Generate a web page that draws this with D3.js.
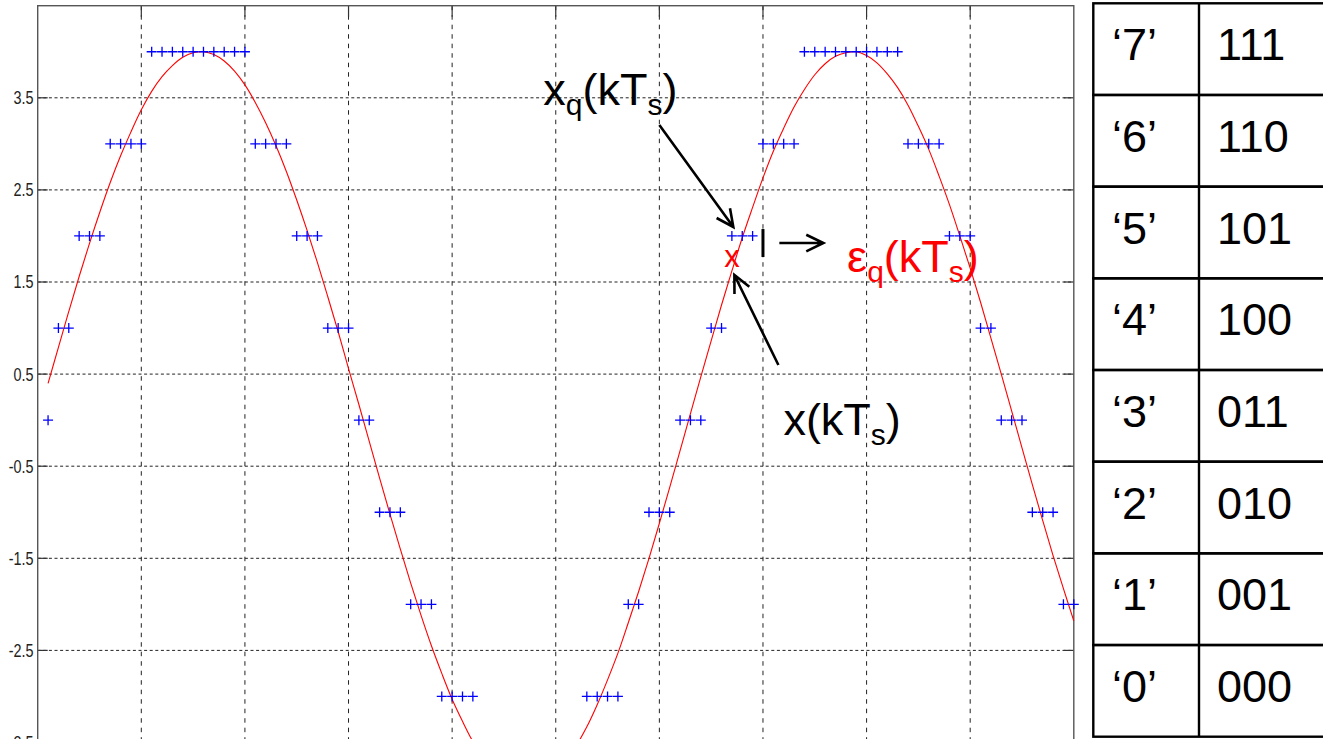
<!DOCTYPE html>
<html>
<head>
<meta charset="utf-8">
<script src="https://cdn.jsdelivr.net/npm/d3@7"></script>
<style>
  html, body { margin: 0; padding: 0; background: #fff; }
  svg { display: block; }
  text { font-family: "Liberation Sans", Arial, sans-serif; }
</style>
</head>
<body>
<div id="chart"></div>
<script>
/* =========================
   Data
========================= */
// sampling interval, sample index k = 1..100
const Ts = 0.1;
const sampleIndex = d3.range(1, 101);

// analog signal x(kTs)
const analogValues = [
   0.40,  0.79,  1.18,  1.56,  1.92,  2.26,  2.58,  2.87,  3.13,  3.37,
   3.57,  3.73,  3.85,  3.94,  3.99,  4.00,  3.97,  3.90,  3.79,  3.64,
   3.45,  3.23,  2.98,  2.70,  2.39,  2.06,  1.71,  1.34,  0.96,  0.56,
   0.17, -0.23, -0.63, -1.02, -1.40, -1.77, -2.12, -2.45, -2.75, -3.03,
  -3.27, -3.49, -3.67, -3.81, -3.91, -3.97, -4.00, -3.98, -3.93, -3.84,
  -3.70, -3.53, -3.33, -3.09, -2.82, -2.53, -2.20, -1.86, -1.50, -1.12,
  -0.73, -0.33,  0.07,  0.47,  0.86,  1.25,  1.62,  1.98,  2.31,  2.63,
   2.92,  3.17,  3.40,  3.59,  3.75,  3.87,  3.95,  3.99,  4.00,  3.96,
   3.88,  3.76,  3.61,  3.42,  3.19,  2.94,  2.65,  2.34,  2.00,  1.65,
   1.28,  0.89,  0.50,  0.10, -0.30, -0.70, -1.09, -1.47, -1.83, -2.18
];

// quantized samples xq(kTs), the blue "+" marks
const quantValues = [
   0,  1,  1,  2,  2,  2,  3,  3,  3,  3,
   4,  4,  4,  4,  4,  4,  4,  4,  4,  4,
   3,  3,  3,  3,  2,  2,  2,  1,  1,  1,
   0,  0, -1, -1, -1, -2, -2, -2, -3, -3,
  -3, -3, -4, -4, -4, -4, -4, -4, -4, -4,
  -4, -4, -3, -3, -3, -3, -2, -2, -1, -1,
  -1,  0,  0,  0,  1,  1,  2,  2,  2,  3,
   3,  3,  3,  4,  4,  4,  4,  4,  4,  4,
   4,  4,  4,  3,  3,  3,  3,  2,  2,  2,
   1,  1,  0,  0,  0, -1, -1, -1, -2, -2
];

const yTicks = [3.5, 2.5, 1.5, 0.5, -0.5, -1.5, -2.5, -3.5];
const yTickLabels = ["3.5", "2.5", "1.5", "0.5", "-0.5", "-1.5", "-2.5", "-3.5"];
const xTicks = [1, 2, 3, 4, 5, 6, 7, 8, 9];

// code table
const codeLabels = ["\u20187\u2019", "\u20186\u2019", "\u20185\u2019", "\u20184\u2019",
                    "\u20183\u2019", "\u20182\u2019", "\u20181\u2019", "\u20180\u2019"];
const codeBits = ["111", "110", "101", "100", "011", "010", "001", "000"];

/* =========================
   Layout
========================= */
const W = 1323, H = 739;
const plot = { left: 37.7, right: 1073.8, top: 5.7, bottom: 834.6 };

const svg = d3.select("#chart").append("svg")
    .attr("width", W)
    .attr("height", H);

svg.append("rect").attr("width", W).attr("height", H).attr("fill", "#fff");

const x = d3.scaleLinear().domain([0, 10]).range([plot.left, plot.right]);
const y = d3.scaleLinear().domain([-4.5, 4.5]).range([plot.bottom, plot.top]);

const g = svg.append("g");

// grid
g.selectAll(".hgrid").data(yTicks).enter().append("line")
    .attr("x1", plot.left).attr("x2", plot.right)
    .attr("y1", d => y(d)).attr("y2", d => y(d))
    .attr("stroke", "#222").attr("stroke-width", 1)
    .attr("stroke-dasharray", "3,2.6");

g.selectAll(".vgrid").data(xTicks).enter().append("line")
    .attr("x1", d => x(d)).attr("x2", d => x(d))
    .attr("y1", plot.top).attr("y2", H + 10)
    .attr("stroke", "#222").attr("stroke-width", 1)
    .attr("stroke-dasharray", "4.5,5");

// inward ticks (matlab style)
g.selectAll(".ltick").data(yTicks).enter().append("line")
    .attr("x1", plot.left).attr("x2", plot.left + 10)
    .attr("y1", d => y(d)).attr("y2", d => y(d))
    .attr("stroke", "#333").attr("stroke-width", 1.2);
g.selectAll(".rtick").data(yTicks).enter().append("line")
    .attr("x1", plot.right - 10).attr("x2", plot.right)
    .attr("y1", d => y(d)).attr("y2", d => y(d))
    .attr("stroke", "#333").attr("stroke-width", 1.2);
g.selectAll(".ttick").data(xTicks).enter().append("line")
    .attr("x1", d => x(d)).attr("x2", d => x(d))
    .attr("y1", plot.top).attr("y2", plot.top + 11)
    .attr("stroke", "#333").attr("stroke-width", 1.2);

// frame
g.append("rect")
    .attr("x", plot.left).attr("y", plot.top)
    .attr("width", plot.right - plot.left)
    .attr("height", plot.bottom - plot.top)
    .attr("fill", "none").attr("stroke", "#555").attr("stroke-width", 1.4);

// y tick labels (narrow matlab font)
g.selectAll(".ylab").data(yTicks).enter().append("text")
    .attr("transform", d => `translate(33.5,${y(d)}) scale(0.8,1)`)
    .attr("dy", "0.36em")
    .attr("text-anchor", "end")
    .attr("font-size", 18)
    .attr("fill", "#222")
    .text((d, i) => yTickLabels[i]);

// analog signal
const curve = d3.line()
    .x((d, i) => x(sampleIndex[i] * Ts))
    .y(d => y(d))
    .curve(d3.curveCatmullRom);

g.append("path")
    .datum(analogValues)
    .attr("d", curve)
    .attr("fill", "none")
    .attr("stroke", "#ff0000")
    .attr("stroke-width", 1.1);

// quantized samples
g.selectAll(".plus").data(quantValues).enter().append("path")
    .attr("transform", (d, i) => `translate(${x(sampleIndex[i] * Ts)},${y(d)})`)
    .attr("d", "M-5,0H5M0,-5V5")
    .attr("stroke", "#0000ff")
    .attr("stroke-width", 1.3)
    .attr("fill", "none");

/* =========================
   Annotations
========================= */
const ann = svg.append("g");

function richText(parent, t, v, parts, color) {
    const txt = parent.append("text")
        .attr("x", x(t)).attr("y", y(v))
        .attr("font-size", 45)
        .attr("fill", color);
    let shifted = false;
    parts.forEach(p => {
        const span = txt.append("tspan").text(p.s);
        if (p.sub) {
            span.attr("font-size", 30).attr("dy", shifted ? 0 : 10);
            shifted = true;
        } else {
            span.attr("font-size", 45).attr("dy", shifted ? -10 : 0);
            shifted = false;
        }
    });
    return txt;
}

function arrow(parent, t0, v0, t1, v1) {
    const x0 = x(t0), y0 = y(v0), x1 = x(t1), y1 = y(v1);
    const a = Math.atan2(y1 - y0, x1 - x0) + Math.PI;
    const len = 19, spread = 0.45;
    parent.append("path")
        .attr("d", `M${x0},${y0}L${x1},${y1}` +
            `M${x1 + len * Math.cos(a - spread)},${y1 + len * Math.sin(a - spread)}` +
            `L${x1},${y1}` +
            `L${x1 + len * Math.cos(a + spread)},${y1 + len * Math.sin(a + spread)}`)
        .attr("fill", "none")
        .attr("stroke", "#000")
        .attr("stroke-width", 2.6)
        .attr("stroke-linejoin", "miter");
}

richText(ann, 4.88, 3.42, [{ s: "x" }, { s: "q", sub: true }, { s: "(kT" }, { s: "s", sub: true }, { s: ")" }], "#000");
richText(ann, 7.197, -0.161, [{ s: "x(kT" }, { s: "s", sub: true }, { s: ")" }], "#000");
richText(ann, 7.812, 1.612, [{ s: "\u03b5" }, { s: "q", sub: true }, { s: "(kT" }, { s: "s", sub: true }, { s: ")" }], "#ff0000");

// red "x" on the analog sample k = 67
ann.append("text")
    .attr("x", x(sampleIndex[66] * Ts))
    .attr("y", y(analogValues[66]) - 4)
    .attr("text-anchor", "middle")
    .attr("font-size", 31)
    .attr("fill", "#ff0000")
    .text("x");

arrow(ann, 6.0, 3.205, 6.714, 2.097);
arrow(ann, 7.149, 0.599, 6.724, 1.576);
arrow(ann, 7.158, 1.923, 7.583, 1.923);

// error bar
ann.append("line")
    .attr("x1", x(7.0)).attr("x2", x(7.0))
    .attr("y1", y(2.075)).attr("y2", y(1.771))
    .attr("stroke", "#000").attr("stroke-width", 3);

/* =========================
   Code table
========================= */
const table = { left: 1093.3, mid: 1199, right: 1345, top: 3.3, bottom: 736.7 };
const rowScale = d3.scaleBand().domain(codeLabels).range([table.top, table.bottom]);

const tg = svg.append("g");

tg.selectAll(".row").data(codeLabels).enter().append("rect")
    .attr("x", table.left).attr("y", d => rowScale(d))
    .attr("width", table.right - table.left)
    .attr("height", rowScale.bandwidth())
    .attr("fill", "none").attr("stroke", "#000").attr("stroke-width", 2.4);

tg.append("line")
    .attr("x1", table.mid).attr("x2", table.mid)
    .attr("y1", table.top).attr("y2", table.bottom)
    .attr("stroke", "#000").attr("stroke-width", 2.4);

tg.selectAll(".code").data(codeLabels).enter().append("text")
    .attr("x", 1112).attr("y", d => rowScale(d) + 57)
    .attr("font-size", 45).attr("fill", "#000")
    .text(d => d);

tg.selectAll(".bits").data(codeBits).enter().append("text")
    .attr("x", 1217).attr("y", (d, i) => rowScale(codeLabels[i]) + 57)
    .attr("font-size", 45).attr("fill", "#000")
    .text(d => d);
</script>
</body>
</html>
